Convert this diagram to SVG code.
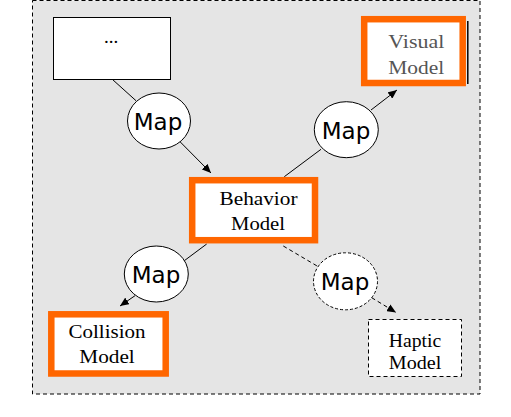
<svg xmlns="http://www.w3.org/2000/svg" width="511" height="417" viewBox="0 0 511 417">
<style>
.bg{fill:#e5e5e5;stroke:#000;stroke-width:1;stroke-dasharray:4,3}
.box{fill:#fff;stroke:#000;stroke-width:1}
.obox{fill:#fff;stroke:#ff6600;stroke-width:6.5}
.dbox{fill:#fff;stroke:#000;stroke-width:1;stroke-dasharray:4,3}
.map{fill:#fff;stroke:#000;stroke-width:1}
.dmap{fill:#fff;stroke:#000;stroke-width:1;stroke-dasharray:3,2}
.mt{font-family:"DejaVu Sans",sans-serif;font-size:23px;fill:#000;text-anchor:middle}
.st{font-family:"Liberation Serif",serif;font-size:19px;fill:#000;text-anchor:middle}
.gray{fill:#555}
.ln{fill:none;stroke:#000;stroke-width:1}
.dln{fill:none;stroke:#000;stroke-width:1;stroke-dasharray:4,3}
</style>
<defs>
<marker id="ah" markerUnits="userSpaceOnUse" markerWidth="10" markerHeight="8" refX="9" refY="4" orient="auto">
<path d="M0,0 L9,4 L0,8 Z" fill="#000"/>
</marker>
</defs>
<rect class="bg" x="32.5" y="0.5" width="447.5" height="393.5"/>
<g id="connectors">
<line class="ln" x1="112.5" y1="79.5" x2="136" y2="100.7"/>
<line class="ln" x1="180" y1="141.7" x2="211" y2="173" marker-end="url(#ah)"/>
<line class="ln" x1="284.3" y1="176.7" x2="321" y2="149.3"/>
<line class="ln" x1="371" y1="110" x2="397" y2="90" marker-end="url(#ah)"/>
<line class="ln" x1="206.7" y1="244" x2="184.3" y2="260.7"/>
<line class="ln" x1="135" y1="295.7" x2="120" y2="306" marker-end="url(#ah)"/>
<line class="dln" x1="283.3" y1="246" x2="318.3" y2="266.7"/>
<line class="dln" x1="371.7" y1="297.7" x2="396" y2="312.5" marker-end="url(#ah)"/>
</g>
<g id="node-dots">
<rect class="box" x="53.5" y="17.5" width="117" height="62"/>
<text class="st" x="111" y="43">...</text>
</g>
<g id="map-1">
<ellipse class="map" cx="159" cy="121" rx="31.5" ry="28"/>
<text class="mt" x="158" y="130">Map</text>
</g>
<g id="node-behavior">
<rect class="obox" x="192.2" y="180.2" width="122.8" height="60"/>
<text class="st" x="258.5" y="205.3" textLength="78" lengthAdjust="spacingAndGlyphs">Behavior</text>
<text class="st" x="258" y="229.7" textLength="54" lengthAdjust="spacingAndGlyphs">Model</text>
</g>
<g id="map-2">
<ellipse class="map" cx="346.3" cy="129.7" rx="32" ry="28"/>
<text class="mt" x="346" y="138.7">Map</text>
</g>
<g id="node-visual">
<line x1="467.8" y1="21" x2="467.8" y2="84" stroke="#000" stroke-width="1.5"/>
<rect class="obox" x="364.2" y="19.2" width="98.5" height="63.8"/>
<text class="st gray" x="416.3" y="48" textLength="56" lengthAdjust="spacingAndGlyphs">Visual</text>
<text class="st gray" x="416.3" y="73.7" textLength="56" lengthAdjust="spacingAndGlyphs">Model</text>
</g>
<g id="map-3">
<ellipse class="map" cx="156.3" cy="274" rx="32" ry="28"/>
<text class="mt" x="156" y="283">Map</text>
</g>
<g id="node-collision">
<rect class="obox" x="51.3" y="314.3" width="114.4" height="59.2"/>
<text class="st" x="107" y="337.7" textLength="77" lengthAdjust="spacingAndGlyphs">Collision</text>
<text class="st" x="107" y="362.7" textLength="55.5" lengthAdjust="spacingAndGlyphs">Model</text>
</g>
<g id="map-4">
<ellipse class="dmap" cx="345.5" cy="281.3" rx="32" ry="28.5"/>
<text class="mt" x="345" y="290.3">Map</text>
</g>
<g id="node-haptic">
<rect class="dbox" x="368.5" y="319.5" width="93" height="57"/>
<text class="st" x="415" y="346.7" textLength="52.5" lengthAdjust="spacingAndGlyphs">Haptic</text>
<text class="st" x="415" y="369" textLength="52.5" lengthAdjust="spacingAndGlyphs">Model</text>
</g>
</svg>
